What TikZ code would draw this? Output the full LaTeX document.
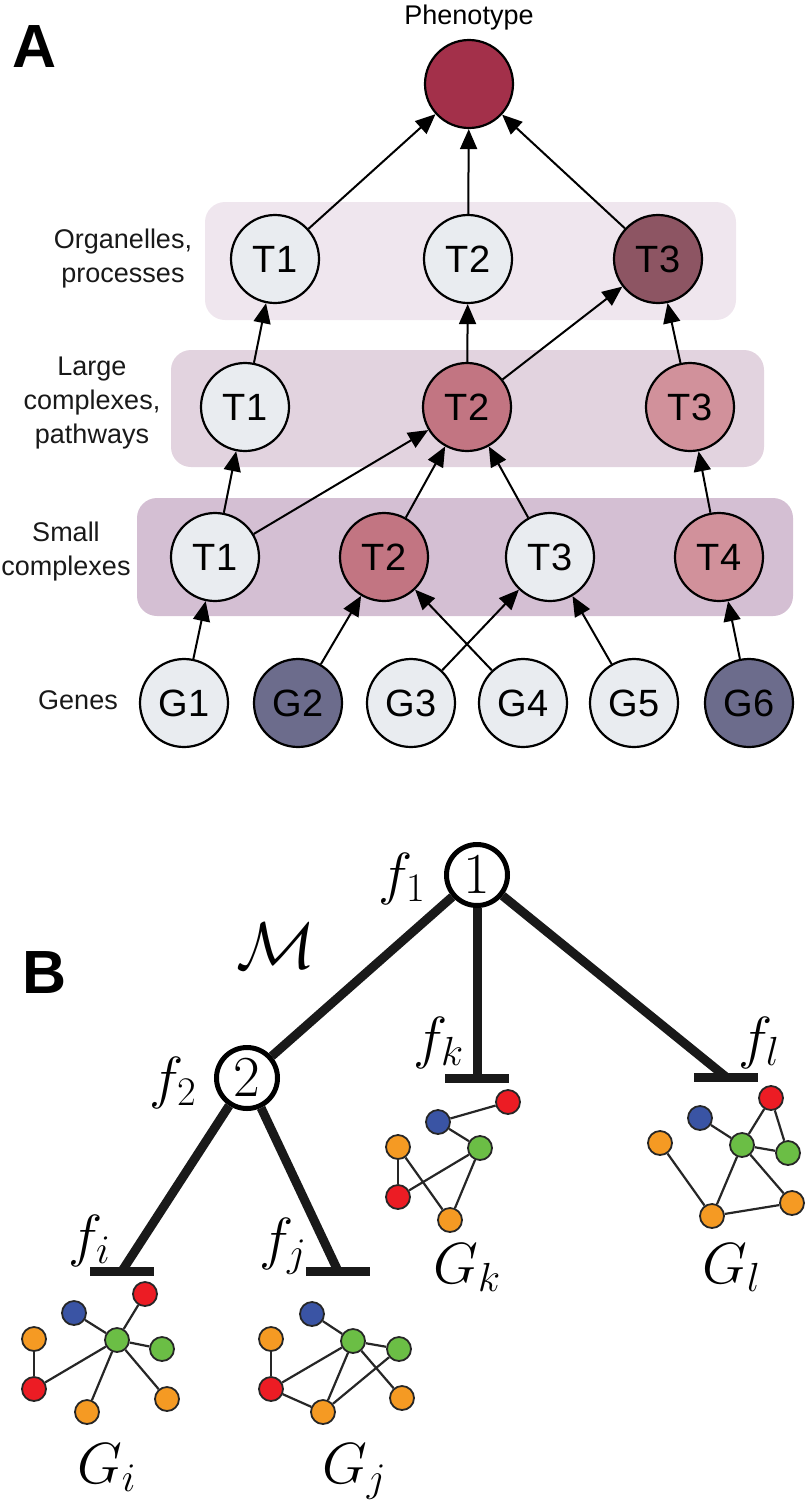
\RequirePackage{fix-cm}
\documentclass[tikz,border=0pt]{standalone}
\usepackage[no-math]{fontspec}
\setmainfont{Liberation Sans}
\usetikzlibrary{arrows.meta}
\definecolor{lightnode}{HTML}{E9ECF0}
\definecolor{phen}{HTML}{A3304A}
\definecolor{orgthree}{HTML}{8D5563}
\definecolor{midpink}{HTML}{C27582}
\definecolor{lightpink}{HTML}{D1919B}
\definecolor{genedark}{HTML}{6C6C8C}
\definecolor{orgband}{HTML}{EFE6EE}
\definecolor{lgband}{HTML}{E2D3DF}
\definecolor{smband}{HTML}{D4BFD3}
\definecolor{gorange}{HTML}{F59A23}
\definecolor{gred}{HTML}{EC1C24}
\definecolor{gblue}{HTML}{3A54A4}
\definecolor{ggreen}{HTML}{6BBE45}
\begin{document}
\begin{tikzpicture}[x=1pt,y=-1pt,
  tnode/.style={circle, draw=black, line width=2.2pt, minimum size=88pt, inner sep=0pt, font=\fontsize{38}{38}\selectfont},
  lbl/.style={font=\fontsize{27}{34}\selectfont, align=center, text=black!90},
  arr/.style={line width=2pt, -{Triangle[length=20pt,width=17pt]}},
  band/.style={rounded corners=20pt},
  mnode/.style={circle, draw=black, line width=5pt, minimum size=61pt, inner sep=0pt, font=\fontsize{58}{58}\selectfont},
  bline/.style={line width=9pt, draw=black!90},
  mlabel/.style={inner sep=0pt, font=\fontsize{58}{58}\selectfont, anchor=base west},
  gn/.style={circle, draw=black!85, line width=1.8pt, minimum size=24pt, inner sep=0pt},
  ge/.style={line width=2.2pt, draw=black!85},
  panel/.style={inner sep=0pt, anchor=base west, font=\fontsize{61}{61}\selectfont\bfseries},
]
\useasboundingbox (0,0) rectangle (809,1500);
% ---------- Panel A ----------
\node[panel] (LA) at (12,67) {A};
\fill[band, fill=orgband] (205,202) rectangle (736,320);
\fill[band, fill=lgband] (171,350) rectangle (764,467);
\fill[band, fill=smband] (137,498) rectangle (793,616);

\node[anchor=base, inner sep=0pt, font=\fontsize{27}{27}\selectfont] (Plbl) at (469,24) {Phenotype};
\node[tnode, fill=phen] (P) at (469,84) {};

\node[lbl] (Lorg) at (123,259) {Organelles,\\processes};
\node[lbl] (Llg) at (92,403) {Large\\complexes,\\pathways};
\node[lbl] (Lsm) at (66,552) {Small\\complexes};
\node[lbl] (Lgn) at (78,700) {Genes};

\node[tnode, fill=lightnode] (O1) at (275,259) {T1};
\node[tnode, fill=lightnode] (O2) at (468,259) {T2};
\node[tnode, fill=orgthree] (O3) at (658,259) {T3};

\node[tnode, fill=lightnode] (L1) at (245,407) {T1};
\node[tnode, fill=midpink] (L2) at (467,407) {T2};
\node[tnode, fill=lightpink] (L3) at (690,407) {T3};

\node[tnode, fill=lightnode] (S1) at (215,557) {T1};
\node[tnode, fill=midpink] (S2) at (384,557) {T2};
\node[tnode, fill=lightnode] (S3) at (550,557) {T3};
\node[tnode, fill=lightpink] (S4) at (719,557) {T4};

\node[tnode, fill=lightnode] (G1) at (184,703) {G1};
\node[tnode, fill=genedark] (G2) at (298,703) {G2};
\node[tnode, fill=lightnode] (G3) at (411,703) {G3};
\node[tnode, fill=lightnode] (G4) at (523,703) {G4};
\node[tnode, fill=lightnode] (G5) at (634,703) {G5};
\node[tnode, fill=genedark] (G6) at (749,703) {G6};

\draw[arr] (O1) -- (P);
\draw[arr] (O2) -- (P);
\draw[arr] (O3) -- (P);
\draw[arr] (L1) -- (O1);
\draw[arr] (L2) -- (O2);
\draw[arr] (L2) -- (O3);
\draw[arr] (L3) -- (O3);
\draw[arr] (S1) -- (L1);
\draw[arr] (S1) -- (L2);
\draw[arr] (S2) -- (L2);
\draw[arr] (S3) -- (L2);
\draw[arr] (S4) -- (L3);
\draw[arr] (G1) -- (S1);
\draw[arr] (G2) -- (S2);
\draw[arr] (G3) -- (S3);
\draw[arr] (G4) -- (S2);
\draw[arr] (G5) -- (S3);
\draw[arr] (G6) -- (S4);

% ---------- Panel B ----------
\node[panel] (LB) at (22,993) {B};
\node[mnode] (N1) at (477,875) {$1$};
\node[mnode] (N2) at (247,1078) {$2$};
\coordinate (Bk) at (477,1078);
\coordinate (Bl) at (726,1077);
\coordinate (Bi) at (122,1271);
\coordinate (Bj) at (338,1271);
\draw[bline] (N1) -- (N2);
\draw[bline] (N1) -- (Bk);
\draw[bline] (N1) -- (Bl);
\draw[bline] (N2) -- (Bi);
\draw[bline] (N2) -- (Bj);
\foreach \b in {Bk,Bl,Bi,Bj} {
  \draw[bline] ([xshift=-32pt]\b) -- ([xshift=32pt]\b);
}
\node[mlabel] (f1) at (378,893) {$f_1$};
\node[mlabel] (f2) at (149,1097) {$f_2$};
\node[mlabel] (fk) at (413,1057) {$f_k$};
\node[mlabel] (fl) at (738,1057) {$f_l$};
\node[mlabel] (fi) at (68,1255) {$f_i$};
\node[mlabel] (fj) at (259,1258) {$f_j$};
\node[anchor=base west, inner sep=0pt, font=\fontsize{66}{66}\selectfont] (M) at (236,968) {$\mathcal{M}$};
\node[mlabel] (Gi) at (77,1483) {$G_i$};
\node[mlabel] (Gj) at (322,1483) {$G_j$};
\node[mlabel] (Gk) at (433,1283) {$G_k$};
\node[mlabel] (Gl) at (702,1283) {$G_l$};

% graph G_i
\node[gn, fill=gred] (i1) at (145,1294) {};
\node[gn, fill=gblue] (i2) at (74,1313) {};
\node[gn, fill=ggreen] (i3) at (117,1340) {};
\node[gn, fill=ggreen] (i4) at (162,1349) {};
\node[gn, fill=gorange] (i5) at (34,1339) {};
\node[gn, fill=gred] (i6) at (34,1389) {};
\node[gn, fill=gorange] (i7) at (87,1412) {};
\node[gn, fill=gorange] (i8) at (167,1399) {};
\foreach \a/\b in {i3/i1,i3/i2,i3/i4,i3/i8,i3/i7,i3/i6,i5/i6} {\draw[ge] (\a) -- (\b);}
% graph G_j
\node[gn, fill=gblue] (j1) at (312,1314) {};
\node[gn, fill=ggreen] (j2) at (353,1341) {};
\node[gn, fill=ggreen] (j3) at (399,1349) {};
\node[gn, fill=gorange] (j4) at (271,1339) {};
\node[gn, fill=gred] (j5) at (271,1389) {};
\node[gn, fill=gorange] (j6) at (323,1412) {};
\node[gn, fill=gorange] (j7) at (402,1398) {};
\foreach \a/\b in {j1/j2,j2/j3,j2/j7,j2/j5,j2/j6,j4/j5,j5/j6,j6/j3} {\draw[ge] (\a) -- (\b);}
% graph G_k
\node[gn, fill=gred] (k1) at (508,1102) {};
\node[gn, fill=gblue] (k2) at (438,1122) {};
\node[gn, fill=ggreen] (k3) at (480,1148) {};
\node[gn, fill=gorange] (k4) at (398,1147) {};
\node[gn, fill=gred] (k5) at (398,1197) {};
\node[gn, fill=gorange] (k6) at (450,1220) {};
\foreach \a/\b in {k2/k1,k2/k3,k4/k5,k4/k6,k5/k3,k3/k6} {\draw[ge] (\a) -- (\b);}
% graph G_l
\node[gn, fill=gred] (l1) at (771,1098) {};
\node[gn, fill=gblue] (l2) at (700,1118) {};
\node[gn, fill=ggreen] (l3) at (742,1145) {};
\node[gn, fill=ggreen] (l4) at (788,1153) {};
\node[gn, fill=gorange] (l5) at (660,1143) {};
\node[gn, fill=gorange] (l6) at (712,1216) {};
\node[gn, fill=gorange] (l7) at (792,1203) {};
\foreach \a/\b in {l2/l3,l3/l1,l1/l4,l3/l4,l3/l6,l3/l7,l5/l6,l6/l7} {\draw[ge] (\a) -- (\b);}
\end{tikzpicture}
\end{document}
